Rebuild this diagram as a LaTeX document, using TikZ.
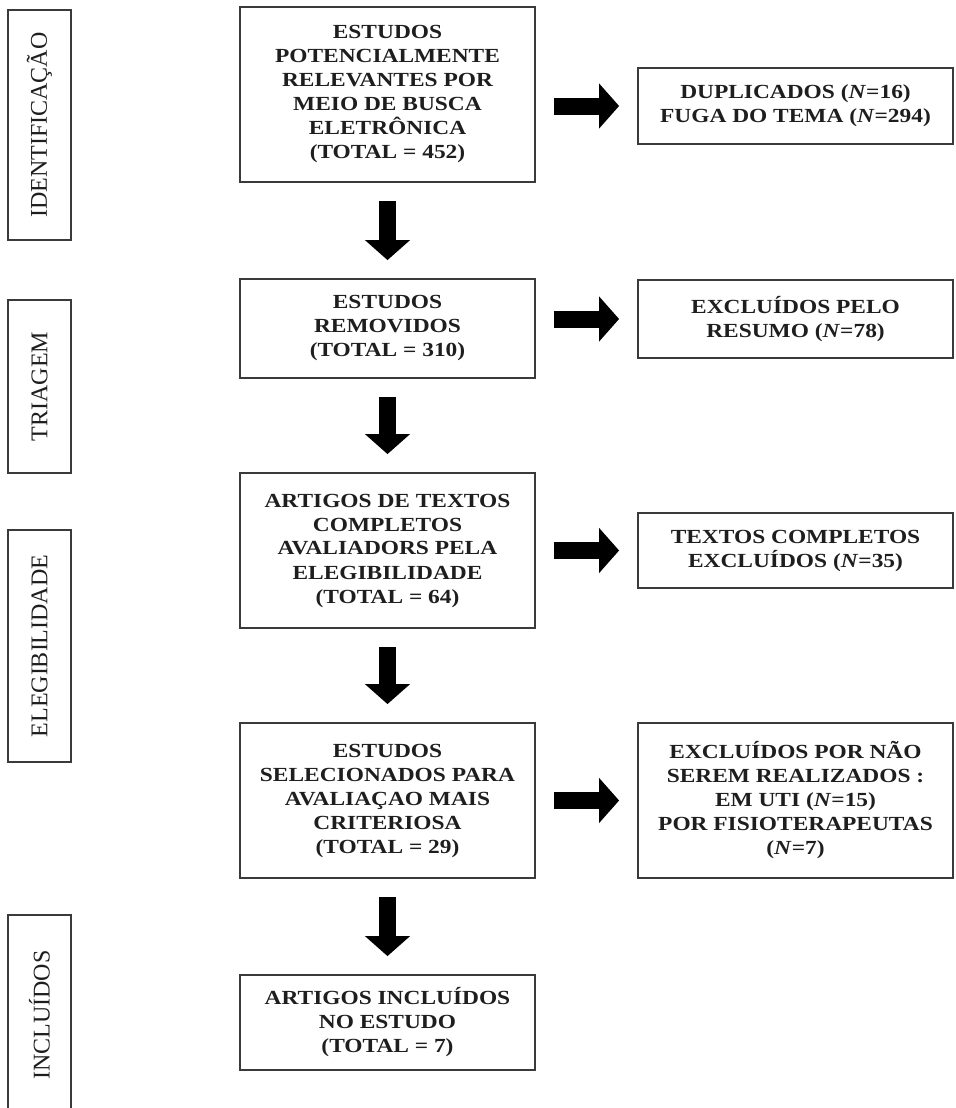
\documentclass[tikz,border=0pt]{standalone}
\usepackage{fontspec}
\setmainfont{Liberation Serif}
\newfontfamily\boxfont[FakeStretch=1.17]{Liberation Serif}
\usetikzlibrary{arrows.meta}
\definecolor{pfText}{HTML}{1E1E1E}
\definecolor{pfLine}{HTML}{3A3A3A}
\newcommand{\nn}{\textit{N}}

\begin{document}
\begin{tikzpicture}[x=0.5pt, y=-0.5pt,
  stagebox/.style={draw=pfLine, line width=0.9pt, rotate=90, minimum height=31.5pt,
    inner sep=0pt, text=pfText, font=\fontsize{12}{14}\selectfont},
  mainbox/.style={draw=pfLine, line width=0.9pt, minimum width=147.5pt, align=center,
    text=pfText, font=\boxfont\bfseries\fontsize{10}{12}\selectfont},
  sidebox/.style={mainbox, minimum width=157.5pt},
  arr/.style={-{Triangle[width=22pt, length=10pt]}, line width=8.5pt,
    shorten <=9pt, shorten >=9pt}
]
  \useasboundingbox (0,0) rectangle (956,1108);
  \clip (0,0) rectangle (956,1108);

  \node[stagebox, minimum width=115pt] (ident) at (39.5,125) {IDENTIFICAÇÃO};
  \node[stagebox, minimum width=86.5pt] (triagem) at (39.5,386.5) {TRIAGEM};
  \node[stagebox, minimum width=116pt] (eleg) at (39.5,646) {ELEGIBILIDADE};
  \node[stagebox, minimum width=100pt] (incl) at (39.5,1015) {INCLUÍDOS};

  \node[mainbox, minimum height=87.5pt] (busca) at (387.5,94.5) {
    ESTUDOS\\ POTENCIALMENTE\\ RELEVANTES POR\\ MEIO DE BUSCA\\
    ELETRÔNICA\\ (TOTAL = 452)
  };
  \node[mainbox, minimum height=49.5pt] (removidos) at (387.5,328.5) {
    ESTUDOS\\ REMOVIDOS\\ (TOTAL = 310)
  };
  \node[mainbox, minimum height=77.5pt] (textos) at (387.5,550.5) {
    ARTIGOS DE TEXTOS\\ COMPLETOS\\ AVALIADORS PELA\\ ELEGIBILIDADE\\
    (TOTAL = 64)
  };
  \node[mainbox, minimum height=77.5pt] (selecionados) at (387.5,800.5) {
    ESTUDOS\\ SELECIONADOS PARA\\ AVALIAÇAO MAIS\\ CRITERIOSA\\
    (TOTAL = 29)
  };
  \node[mainbox, minimum height=47.5pt] (incluidos) at (387.5,1022.5) {
    ARTIGOS INCLUÍDOS\\ NO ESTUDO\\ (TOTAL = 7)
  };

  \node[sidebox, minimum height=38pt] (duplicados) at (795.5,106) {
    DUPLICADOS (\nn=16)\\ FUGA DO TEMA (\nn=294)
  };
  \node[sidebox, minimum height=39pt] (resumo) at (795.5,319) {
    EXCLUÍDOS PELO\\ RESUMO (\nn=78)
  };
  \node[sidebox, minimum height=37.5pt] (excluidos) at (795.5,550.5) {
    TEXTOS COMPLETOS\\ EXCLUÍDOS (\nn=35)
  };
  \node[sidebox, minimum height=77.5pt] (naouti) at (795.5,800.5) {
    EXCLUÍDOS POR NÃO\\ SEREM REALIZADOS :\\ EM UTI (\nn=15)\\
    POR FISIOTERAPEUTAS\\ (\nn=7)
  };

  \draw[arr] (busca) -- (removidos);
  \draw[arr] (removidos) -- (textos);
  \draw[arr] (textos) -- (selecionados);
  \draw[arr] (selecionados) -- (incluidos);

  \draw[arr] (busca.east |- duplicados) -- (duplicados);
  \draw[arr] (removidos.east |- resumo) -- (resumo);
  \draw[arr] (textos.east |- excluidos) -- (excluidos);
  \draw[arr] (selecionados.east |- naouti) -- (naouti);
\end{tikzpicture}
\end{document}
